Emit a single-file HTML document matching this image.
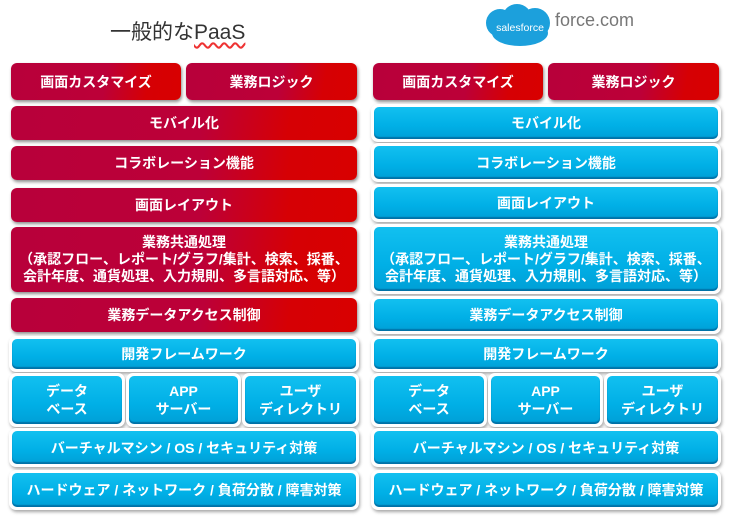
<!DOCTYPE html>
<html><head><meta charset="utf-8"><style>
body{margin:0;width:732px;height:523px;background:#fff;position:relative;overflow:hidden;font-family:"Liberation Sans","Noto Sans CJK JP",sans-serif}
.b{position:absolute;display:flex;align-items:center;justify-content:center;text-align:center;color:#fff;font-weight:bold;font-size:14px;line-height:18px;box-sizing:border-box}
.r{background:linear-gradient(100deg,#b8003a 0%,#bc0038 55%,#d60004 80%,#d80000 100%);border-radius:6px;box-shadow:1px 2px 3px rgba(0,0,0,.45)}
.u{background:#fff;border-radius:7px;box-shadow:1px 2px 3px rgba(0,0,0,.35);padding:3px}
.u>div{width:100%;height:100%;border-radius:5px;background:linear-gradient(#12c0f0,#00afe6 60%,#009fd6);box-shadow:inset 0 -2px 1px rgba(0,60,110,.45);display:flex;align-items:center;justify-content:center;flex-direction:column}
.s{font-size:14px;line-height:17px}
</style></head><body>
<div style="position:absolute;left:110px;top:16px;font-size:21px;color:#333">一般的な<span style="text-decoration:underline wavy #e33;text-underline-offset:3px">PaaS</span></div>
<div style="position:absolute;left:486px;top:9px;width:28px;height:28px;background:#1ca0dc;border-radius:50%"></div>
<div style="position:absolute;left:502px;top:4px;width:30px;height:30px;background:#1ca0dc;border-radius:50%"></div>
<div style="position:absolute;left:520px;top:8px;width:30px;height:30px;background:#1ca0dc;border-radius:50%"></div>
<div style="position:absolute;left:492px;top:20px;width:56px;height:26px;background:#1ca0dc;border-radius:50%"></div>
<div style="position:absolute;left:490px;top:22px;width:60px;text-align:center;color:#fff;font-size:10.5px">salesforce</div>
<div style="position:absolute;left:555px;top:10px;font-size:18px;color:#777">force.com</div>

<!-- left -->
<div class="b r" style="left:11px;top:63px;width:170px;height:37px">画面カスタマイズ</div>
<div class="b r" style="left:186px;top:63px;width:171px;height:37px">業務ロジック</div>
<div class="b r" style="left:11px;top:106px;width:346px;height:34px">モバイル化</div>
<div class="b r" style="left:11px;top:146px;width:346px;height:34px">コラボレーション機能</div>
<div class="b r" style="left:11px;top:188px;width:346px;height:34px">画面レイアウト</div>
<div class="b r s" style="left:11px;top:227px;width:346px;height:65px">業務共通処理<br>（承認フロー、レポート/グラフ/集計、検索、採番、<br>会計年度、通貨処理、入力規則、多言語対応、等）</div>
<div class="b r" style="left:11px;top:298px;width:346px;height:34px">業務データアクセス制御</div>
<div class="b u" style="left:9px;top:336px;width:350px;height:36px"><div>開発フレームワーク</div></div>
<div class="b u" style="left:9px;top:373px;width:116px;height:54px"><div>データ<br>ベース</div></div>
<div class="b u" style="left:126px;top:373px;width:115px;height:54px"><div>APP<br>サーバー</div></div>
<div class="b u" style="left:242px;top:373px;width:117px;height:54px"><div>ユーザ<br>ディレクトリ</div></div>
<div class="b u" style="left:9px;top:428px;width:350px;height:39px"><div>バーチャルマシン / OS / セキュリティ対策</div></div>
<div class="b u" style="left:9px;top:470px;width:350px;height:40px"><div>ハードウェア / ネットワーク / 負荷分散 / 障害対策</div></div>

<!-- right -->
<div class="b r" style="left:373px;top:63px;width:170px;height:37px">画面カスタマイズ</div>
<div class="b r" style="left:548px;top:63px;width:171px;height:37px">業務ロジック</div>
<div class="b u" style="left:371px;top:104px;width:350px;height:38px"><div>モバイル化</div></div>
<div class="b u" style="left:371px;top:143px;width:350px;height:39px"><div>コラボレーション機能</div></div>
<div class="b u" style="left:371px;top:184px;width:350px;height:38px"><div>画面レイアウト</div></div>
<div class="b u s" style="left:371px;top:224px;width:350px;height:70px"><div>業務共通処理<br>（承認フロー、レポート/グラフ/集計、検索、採番、<br>会計年度、通貨処理、入力規則、多言語対応、等）</div></div>
<div class="b u" style="left:371px;top:296px;width:350px;height:38px"><div>業務データアクセス制御</div></div>
<div class="b u" style="left:371px;top:336px;width:350px;height:36px"><div>開発フレームワーク</div></div>
<div class="b u" style="left:371px;top:373px;width:116px;height:54px"><div>データ<br>ベース</div></div>
<div class="b u" style="left:488px;top:373px;width:115px;height:54px"><div>APP<br>サーバー</div></div>
<div class="b u" style="left:604px;top:373px;width:117px;height:54px"><div>ユーザ<br>ディレクトリ</div></div>
<div class="b u" style="left:371px;top:428px;width:350px;height:39px"><div>バーチャルマシン / OS / セキュリティ対策</div></div>
<div class="b u" style="left:371px;top:470px;width:350px;height:40px"><div>ハードウェア / ネットワーク / 負荷分散 / 障害対策</div></div>
</body></html>
